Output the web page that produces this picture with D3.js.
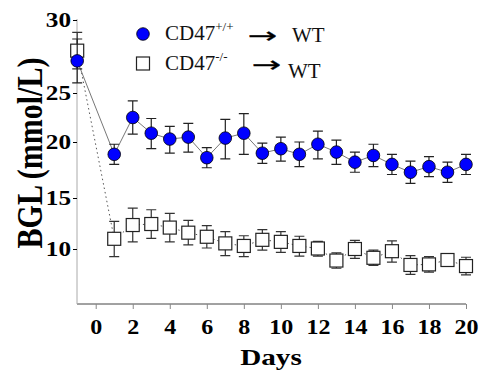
<!DOCTYPE html>
<html>
<head>
<meta charset="utf-8">
<script src="https://cdn.jsdelivr.net/npm/d3@7"></script>
<style>
  html, body { margin: 0; padding: 0; background: #fff; }
  svg { display: block; }
  .serif { font-family: "Liberation Serif", "Times New Roman", Tinos, serif; }
</style>
</head>
<body>
<svg id="chart" width="480" height="376"></svg>
<script>
// ---- data ----
const days = [-1, 1, 2, 3, 4, 5, 6, 7, 8, 9, 10, 11, 12, 13, 14, 15, 16, 17, 18, 19, 20];
const wtMean = [27.2, 18.9, 22.5, 20.9, 20.3, 20.5, 18.6, 20.4, 20.9, 19.0, 19.4, 18.9, 19.8, 19.1, 18.2, 18.8, 18.0, 17.3, 17.8, 17.3, 18.0];
const wtErr  = [1.5, 0.9, 1.7, 1.5, 1.3, 1.4, 0.9, 1.9, 2.0, 0.9, 1.1, 1.1, 1.3, 1.1, 0.9, 1.0, 0.9, 1.0, 0.9, 0.9, 0.9];
const koMean = [27.9, 11.0, 12.35, 12.45, 12.1, 11.6, 11.2, 10.55, 10.3, 10.9, 10.7, 10.3, 10.05, 8.95, 10.0, 9.2, 9.8, 8.55, 8.6, 9.0, 8.45];
const koErr  = [1.25, 1.7, 1.65, 1.4, 1.4, 1.2, 1.1, 1.15, 1.0, 1.0, 1.0, 0.95, 0.7, 0.7, 0.85, 0.7, 1.0, 0.85, 0.7, 0.4, 0.8];
const xTicks = [0, 2, 4, 6, 8, 10, 12, 14, 16, 18, 20];
const yTicks = [10, 15, 20, 25, 30];
const seriesNames = ["CD47", "CD47"];
const seriesSup = ["+/+", "-/-"];
const targetLabel = "WT";
const xTitle = "Days";
const yTitle = "BGL (mmol/L)";

const svg = d3.select("#chart");

// scales (y axis of the original is not uniformly spaced)
const x = d3.scaleLinear().domain([-1, 20]).range([77.2, 466]);
const y = d3.scaleLinear().domain([5, 10, 15, 20, 25, 30]).range([304, 249, 198, 142, 93, 20]);

// axes
const xAxisG = svg.append("g").attr("transform", "translate(0,304)")
  .call(d3.axisBottom(x).tickValues(xTicks).tickSize(5).tickSizeOuter(0));
xAxisG.attr("font-family", null);
xAxisG.select(".domain").attr("d", `M77,0H${x(20)}`).attr("stroke", "#444");
xAxisG.selectAll(".tick line").attr("stroke", "#888");
xAxisG.selectAll(".tick text")
  .attr("y", 30).attr("dy", null).attr("class", "serif")
  .attr("font-size", 20).attr("font-weight", "bold")
  .attr("fill", "#000").attr("transform", "scale(1.2,1)");

const yAxisG = svg.append("g").attr("transform", "translate(77,0)")
  .call(d3.axisLeft(y).tickValues(yTicks).tickSize(4).tickPadding(1).tickSizeOuter(0));
yAxisG.attr("font-family", null);
yAxisG.select(".domain").attr("d", "M0,19V304").attr("stroke", "#aaa");
yAxisG.selectAll(".tick line").attr("stroke", "#000");
yAxisG.selectAll(".tick text")
  .attr("class", "serif").attr("font-size", 21).attr("font-weight", "bold")
  .attr("fill", "#000").attr("transform", "scale(1.2,1)");

// titles
svg.append("text").attr("class", "serif")
  .attr("transform", "translate(42,153) scale(1.2,1) rotate(-90)")
  .attr("text-anchor", "middle")
  .attr("font-size", 30).attr("font-weight", "bold")
  .text(yTitle);
svg.append("text").attr("class", "serif")
  .attr("transform", "translate(271,365) scale(1.27,1)")
  .attr("text-anchor", "middle")
  .attr("font-size", 23).attr("font-weight", "bold")
  .text(xTitle);

const ko = days.map((d, i) => ({ d, m: koMean[i], e: koErr[i] }));
const wt = days.map((d, i) => ({ d, m: wtMean[i], e: wtErr[i] }));

// KO dotted line
svg.append("path").datum(ko)
  .attr("d", d3.line().x(p => x(p.d)).y(p => y(p.m)))
  .attr("fill", "none").attr("stroke", "#555").attr("stroke-width", 1)
  .attr("stroke-dasharray", "1.5,3");

// WT line
svg.append("path").datum(wt)
  .attr("d", d3.line().x(p => x(p.d)).y(p => y(p.m)))
  .attr("fill", "none").attr("stroke", "#777").attr("stroke-width", 1);

function errBars(data, color) {
  const g = svg.append("g").attr("stroke", color).attr("stroke-width", 1.2).attr("fill", "none");
  const cw = 5;
  data.forEach(p => {
    const cx = x(p.d), y1 = y(p.m + p.e), y2 = y(p.m - p.e);
    g.append("path").attr("d", `M${cx},${y1}V${y2}M${cx - cw},${y1}H${cx + cw}M${cx - cw},${y2}H${cx + cw}`);
  });
}

// KO error bars + squares
errBars(ko, "#333");
svg.append("g").selectAll("rect").data(ko).join("rect")
  .attr("x", p => x(p.d) - 6.5).attr("y", p => y(p.m) - 6.5)
  .attr("width", 13).attr("height", 13)
  .attr("fill", "#fff").attr("stroke", "#222").attr("stroke-width", 1.2);

// WT error bars + circles
errBars(wt, "#222");
svg.append("g").selectAll("circle").data(wt).join("circle")
  .attr("cx", p => x(p.d)).attr("cy", p => y(p.m)).attr("r", 6.3)
  .attr("fill", "#0000ff").attr("stroke", "#000").attr("stroke-width", 0.8);

// legend
const leg = svg.append("g");
leg.append("circle").attr("cx", 143).attr("cy", 34).attr("r", 6.3)
  .attr("fill", "#0000ff").attr("stroke", "#000").attr("stroke-width", 0.8);
leg.append("rect").attr("x", 136.5).attr("y", 57).attr("width", 13).attr("height", 13)
  .attr("fill", "#fff").attr("stroke", "#222").attr("stroke-width", 1.2);

const rows = [
  { ty: 40, ax: 248, ay: 43, wx: 292, wy: 42 },
  { ty: 70, ax: 252, ay: 72, wx: 288, wy: 78 }
];
rows.forEach((r, i) => {
  const t = leg.append("text").attr("class", "serif").attr("x", 165).attr("y", r.ty)
    .attr("font-size", 21).attr("fill", "#111");
  t.append("tspan").text(seriesNames[i]);
  t.append("tspan").attr("font-size", 13).attr("dy", -9).text(seriesSup[i]);
  leg.append("text")
    .attr("transform", `translate(${r.ax},${r.ay}) scale(1.6,1)`)
    .attr("font-family", "DejaVu Sans").attr("font-size", 22)
    .attr("fill", "#000").attr("stroke", "#000").attr("stroke-width", 0.3)
    .text("\u2192");
  leg.append("text").attr("class", "serif").attr("x", r.wx).attr("y", r.wy)
    .attr("font-size", 21).attr("fill", "#111")
    .text(targetLabel);
});
</script>
</body>
</html>
